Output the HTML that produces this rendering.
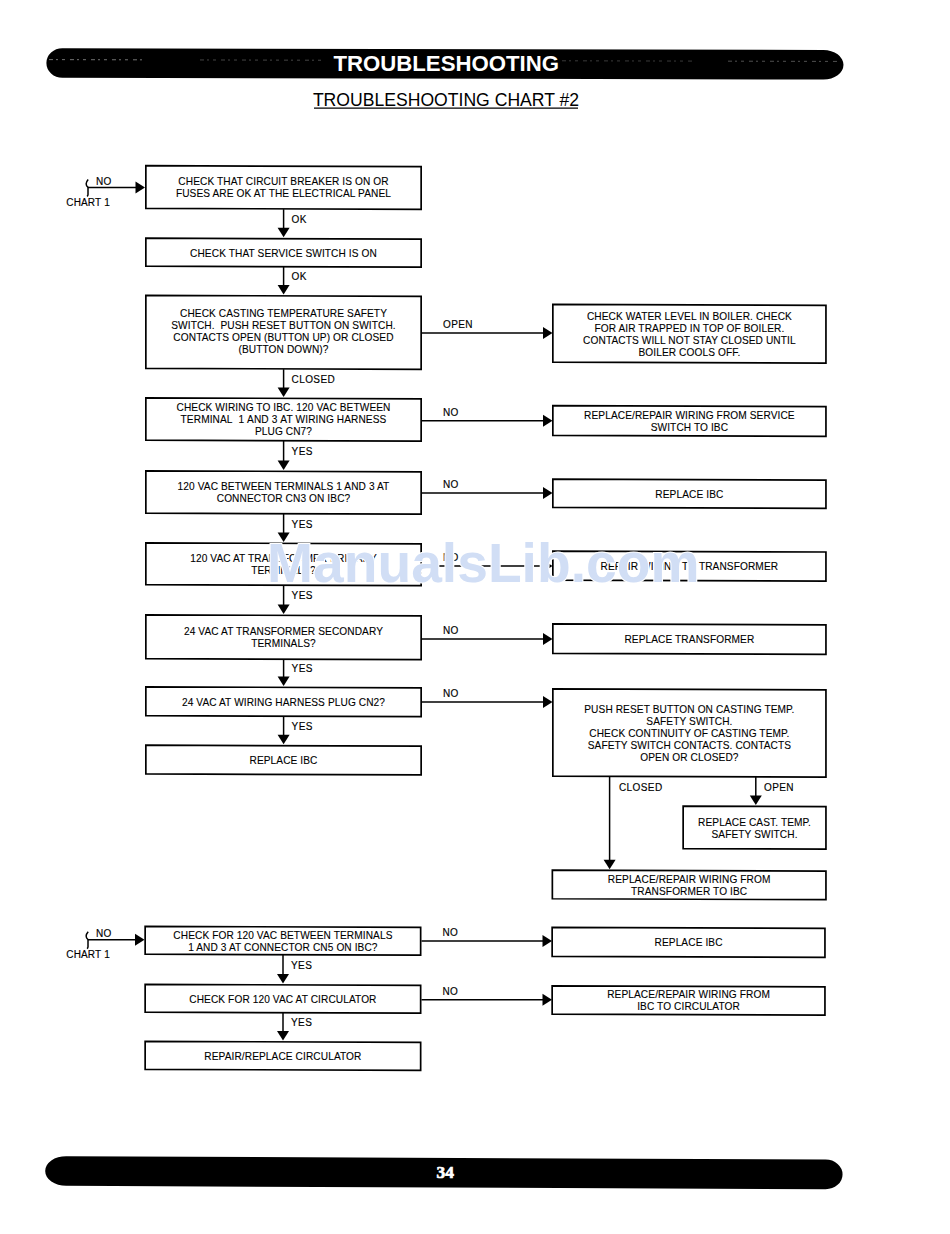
<!DOCTYPE html>
<html><head><meta charset="utf-8"><style>
html,body{margin:0;padding:0;background:#fff;width:950px;height:1234px;overflow:hidden}
svg{display:block}
text{font-family:"Liberation Sans",sans-serif;fill:#000}
.t{stroke:#000;stroke-width:0.1}
.l{stroke:#000;stroke-width:0.15}
.t{font-size:10.15px;text-anchor:middle;white-space:pre;letter-spacing:0.1px}
.l{font-size:10px;letter-spacing:0.4px}
.h{font-size:22.2px;font-weight:bold;fill:#fff;text-anchor:middle}
.sub{font-size:17.6px;text-anchor:middle}
.pg{font-family:"Liberation Serif",serif;font-size:17.4px;font-weight:bold;fill:#fff;stroke:#fff;stroke-width:0.7;text-anchor:middle}
.bx{fill:none;stroke:#000}
.ln{stroke:#000;stroke-width:1.5}
.ah{fill:#000}
.br{fill:none;stroke:#000;stroke-width:1.5}
.wm{font-size:55.2px;font-weight:bold;fill:#d1def5;stroke:#fff;stroke-width:2.2;paint-order:stroke}
</style></head><body>
<svg width="950" height="1234" viewBox="0 0 950 1234">
<path d="M62.4,48.2 L823.5,50 A20,14.8 0 0 1 823.5,79.6 L62.4,77.80000000000001 A16,14.8 0 0 1 62.4,48.2 Z" fill="#000"/>
<line x1="49" y1="59.61" x2="143" y2="59.82" stroke="#fff" stroke-width="0.9" stroke-dasharray="4 3 2 4 3 5" opacity="0.5"/>
<line x1="200" y1="59.95" x2="322" y2="60.23" stroke="#fff" stroke-width="0.9" stroke-dasharray="4 3 2 4 3 5" opacity="0.3"/>
<line x1="562" y1="60.79" x2="695" y2="61.09" stroke="#fff" stroke-width="0.9" stroke-dasharray="4 3 2 4 3 5" opacity="0.25"/>
<line x1="728" y1="61.17" x2="838" y2="61.42" stroke="#fff" stroke-width="0.9" stroke-dasharray="4 3 2 4 3 5" opacity="0.35"/>
<text x="446.2" y="70.5" class="h">TROUBLESHOOTING</text>
<text x="446" y="106" class="sub">TROUBLESHOOTING CHART #2</text>
<line x1="314" y1="108.2" x2="578" y2="108.2" stroke="#000" stroke-width="1.3"/>
<path d="M66.2,1156.2 L825.6,1159.6 A17,14.8 0 0 1 825.6,1189.1999999999998 L66.2,1185.8 A21,14.8 0 0 1 66.2,1156.2 Z" fill="#000"/>
<text x="445.3" y="1178.2" class="pg">34</text>
<path d="M145.85,165.65 L421.15,166.61 L421.15,209.31 L145.85,208.35 Z" class="bx" stroke-width="1.7"/>
<text x="283.5" y="185.43" class="t">CHECK THAT CIRCUIT BREAKER IS ON OR</text>
<text x="283.5" y="197.43" class="t">FUSES ARE OK AT THE ELECTRICAL PANEL</text>
<path d="M145.85,238.15 L421.15,239.11 L421.15,267.11 L145.85,266.15 Z" class="bx" stroke-width="1.7"/>
<text x="283.5" y="256.58" class="t">CHECK THAT SERVICE SWITCH IS ON</text>
<path d="M145.85,295.35 L421.15,296.31 L421.15,369.31 L145.85,368.34999999999997 Z" class="bx" stroke-width="1.7"/>
<text x="283.5" y="317.08" class="t">CHECK CASTING TEMPERATURE SAFETY</text>
<text x="283.5" y="329.08" class="t">SWITCH.&#160;&#160;PUSH&#160;RESET&#160;BUTTON&#160;ON&#160;SWITCH.</text>
<text x="283.5" y="341.08" class="t">CONTACTS OPEN (BUTTON UP) OR CLOSED</text>
<text x="283.5" y="353.08" class="t">(BUTTON DOWN)?</text>
<path d="M145.85,397.85 L421.15,398.81 L421.15,441.11 L145.85,440.15 Z" class="bx" stroke-width="1.7"/>
<text x="283.5" y="411.43" class="t">CHECK WIRING TO IBC. 120 VAC BETWEEN</text>
<text x="283.5" y="423.43" class="t">TERMINAL&#160;&#160;1&#160;AND&#160;3&#160;AT&#160;WIRING&#160;HARNESS</text>
<text x="283.5" y="435.43" class="t">PLUG CN7?</text>
<path d="M145.85,470.85 L421.15,471.81 L421.15,514.11 L145.85,513.15 Z" class="bx" stroke-width="1.7"/>
<text x="283.5" y="490.43" class="t">120 VAC BETWEEN TERMINALS 1 AND 3 AT</text>
<text x="283.5" y="502.43" class="t">CONNECTOR CN3 ON IBC?</text>
<path d="M145.85,542.85 L421.15,543.81 L421.15,585.61 L145.85,584.65 Z" class="bx" stroke-width="1.7"/>
<text x="283.5" y="562.18" class="t">120 VAC AT TRANSFORMER PRIMARY</text>
<text x="283.5" y="574.18" class="t">TERMINALS?</text>
<path d="M145.85,614.85 L421.15,615.81 L421.15,659.61 L145.85,658.65 Z" class="bx" stroke-width="1.7"/>
<text x="283.5" y="635.18" class="t">24 VAC AT TRANSFORMER SECONDARY</text>
<text x="283.5" y="647.18" class="t">TERMINALS?</text>
<path d="M145.85,686.85 L421.15,687.81 L421.15,716.61 L145.85,715.65 Z" class="bx" stroke-width="1.7"/>
<text x="283.5" y="705.68" class="t">24 VAC AT WIRING HARNESS PLUG CN2?</text>
<path d="M145.85,745.15 L421.15,746.11 L421.15,774.91 L145.85,773.9499999999999 Z" class="bx" stroke-width="1.7"/>
<text x="283.5" y="763.98" class="t">REPLACE IBC</text>
<line x1="283.6" y1="209.2" x2="283.6" y2="228.8" class="ln" stroke-width="1.35"/>
<path d="M277.6,227.8 L289.6,227.8 L283.6,237.3 Z" class="ah"/>
<text x="291.6" y="222.95" class="l">OK</text>
<line x1="283.6" y1="267" x2="283.6" y2="286.0" class="ln" stroke-width="1.35"/>
<path d="M277.6,285.0 L289.6,285.0 L283.6,294.5 Z" class="ah"/>
<text x="291.6" y="280.45" class="l">OK</text>
<line x1="283.6" y1="369.2" x2="283.6" y2="388.5" class="ln" stroke-width="1.35"/>
<path d="M277.6,387.5 L289.6,387.5 L283.6,397 Z" class="ah"/>
<text x="291.6" y="382.8" class="l">CLOSED</text>
<line x1="283.6" y1="441" x2="283.6" y2="461.5" class="ln" stroke-width="1.35"/>
<path d="M277.6,460.5 L289.6,460.5 L283.6,470 Z" class="ah"/>
<text x="291.6" y="455.2" class="l">YES</text>
<line x1="283.6" y1="514" x2="283.6" y2="533.5" class="ln" stroke-width="1.35"/>
<path d="M277.6,532.5 L289.6,532.5 L283.6,542 Z" class="ah"/>
<text x="291.6" y="527.7" class="l">YES</text>
<line x1="283.6" y1="585.5" x2="283.6" y2="605.5" class="ln" stroke-width="1.35"/>
<path d="M277.6,604.5 L289.6,604.5 L283.6,614 Z" class="ah"/>
<text x="291.6" y="599.45" class="l">YES</text>
<line x1="283.6" y1="659.5" x2="283.6" y2="677.5" class="ln" stroke-width="1.35"/>
<path d="M277.6,676.5 L289.6,676.5 L283.6,686 Z" class="ah"/>
<text x="291.6" y="672.45" class="l">YES</text>
<line x1="283.6" y1="716.5" x2="283.6" y2="735.8" class="ln" stroke-width="1.35"/>
<path d="M277.6,734.8 L289.6,734.8 L283.6,744.3 Z" class="ah"/>
<text x="291.6" y="730.1" class="l">YES</text>
<path d="M552.85,304.35 L825.9499999999999,305.31 L825.9499999999999,363.11 L552.85,362.15 Z" class="bx" stroke-width="1.7"/>
<text x="689.4" y="319.68" class="t">CHECK WATER LEVEL IN BOILER. CHECK</text>
<text x="689.4" y="331.68" class="t">FOR AIR TRAPPED IN TOP OF BOILER.</text>
<text x="689.4" y="343.68" class="t">CONTACTS WILL NOT STAY CLOSED UNTIL</text>
<text x="689.4" y="355.68" class="t">BOILER COOLS OFF.</text>
<path d="M552.85,405.65000000000003 L825.9499999999999,406.61 L825.9499999999999,436.31 L552.85,435.34999999999997 Z" class="bx" stroke-width="1.7"/>
<text x="689.4" y="418.93" class="t">REPLACE/REPAIR WIRING FROM SERVICE</text>
<text x="689.4" y="430.93" class="t">SWITCH TO IBC</text>
<path d="M552.85,479.15000000000003 L825.9499999999999,480.11 L825.9499999999999,508.41 L552.85,507.45 Z" class="bx" stroke-width="1.7"/>
<text x="689.4" y="497.73" class="t">REPLACE IBC</text>
<path d="M552.85,551.0500000000001 L825.9499999999999,552.01 L825.9499999999999,581.11 L552.85,580.15 Z" class="bx" stroke-width="1.7"/>
<text x="689.4" y="570.03" class="t">REPAIR WIRING TO TRANSFORMER</text>
<path d="M552.85,623.85 L825.9499999999999,624.81 L825.9499999999999,654.31 L552.85,653.35 Z" class="bx" stroke-width="1.7"/>
<text x="689.4" y="643.03" class="t">REPLACE TRANSFORMER</text>
<path d="M552.85,688.85 L825.9499999999999,689.81 L825.9499999999999,777.11 L552.85,776.15 Z" class="bx" stroke-width="1.7"/>
<text x="689.4" y="712.93" class="t">PUSH RESET BUTTON ON CASTING TEMP.</text>
<text x="689.4" y="724.93" class="t">SAFETY SWITCH.</text>
<text x="689.4" y="736.93" class="t">CHECK CONTINUITY OF CASTING TEMP.</text>
<text x="689.4" y="748.93" class="t">SAFETY SWITCH CONTACTS. CONTACTS</text>
<text x="689.4" y="760.93" class="t">OPEN OR CLOSED?</text>
<path d="M683.15,806.0500000000001 L825.9499999999999,806.55 L825.9499999999999,849.05 L683.15,848.55 Z" class="bx" stroke-width="1.7"/>
<text x="754.55" y="825.73" class="t">REPLACE CAST. TEMP.</text>
<text x="754.55" y="837.73" class="t">SAFETY SWITCH.</text>
<path d="M552.35,870.15 L825.9499999999999,871.11 L825.9499999999999,899.71 L552.35,898.75 Z" class="bx" stroke-width="1.7"/>
<text x="689.15" y="882.88" class="t">REPLACE/REPAIR WIRING FROM</text>
<text x="689.15" y="894.88" class="t">TRANSFORMER TO IBC</text>
<line x1="422" y1="333" x2="544.0" y2="333" class="ln" stroke-width="1.75"/>
<path d="M543.0,327 L543.0,339 L552.5,333 Z" class="ah"/>
<text x="443" y="328" class="l">OPEN</text>
<line x1="422" y1="420.7" x2="544.0" y2="420.7" class="ln" stroke-width="1.75"/>
<path d="M543.0,414.7 L543.0,426.7 L552.5,420.7 Z" class="ah"/>
<text x="443" y="415.7" class="l">NO</text>
<line x1="422" y1="492.9" x2="544.0" y2="492.9" class="ln" stroke-width="1.75"/>
<path d="M543.0,486.9 L543.0,498.9 L552.5,492.9 Z" class="ah"/>
<text x="443" y="487.9" class="l">NO</text>
<line x1="422" y1="566" x2="544.0" y2="566" class="ln" stroke-width="1.75"/>
<path d="M543.0,560 L543.0,572 L552.5,566 Z" class="ah"/>
<text x="443" y="561" class="l">NO</text>
<line x1="422" y1="639" x2="544.0" y2="639" class="ln" stroke-width="1.75"/>
<path d="M543.0,633 L543.0,645 L552.5,639 Z" class="ah"/>
<text x="443" y="634" class="l">NO</text>
<line x1="422" y1="702" x2="544.0" y2="702" class="ln" stroke-width="1.75"/>
<path d="M543.0,696 L543.0,708 L552.5,702 Z" class="ah"/>
<text x="443" y="697" class="l">NO</text>
<line x1="609.6" y1="777" x2="609.6" y2="860.8" class="ln" stroke-width="1.35"/>
<path d="M603.6,859.8 L615.6,859.8 L609.6,869.3 Z" class="ah"/>
<text x="619" y="791" class="l">CLOSED</text>
<line x1="755.8" y1="777" x2="755.8" y2="796.5" class="ln" stroke-width="1.35"/>
<path d="M749.8,795.5 L761.8,795.5 L755.8,805 Z" class="ah"/>
<text x="764" y="791" class="l">OPEN</text>
<path d="M88.2,179.4 C85.4,182.4 85.6,185.4 88,187.4 L88,194.4 C88,195.4 87.6,196.0 87,196.4" class="br"/>
<line x1="88" y1="187.4" x2="136.5" y2="187.4" class="ln" stroke-width="1.75"/>
<path d="M135.5,181.4 L135.5,193.4 L145,187.4 Z" class="ah"/>
<text x="96" y="184.9" class="l">NO</text>
<text x="66.3" y="205.8" class="l" style="letter-spacing:0.15px">CHART&#160;1</text>
<path d="M145.15,926.35 L420.65,927.31 L420.65,955.11 L145.15,954.15 Z" class="bx" stroke-width="1.7"/>
<text x="282.9" y="938.68" class="t">CHECK FOR 120 VAC BETWEEN TERMINALS</text>
<text x="282.9" y="950.68" class="t">1 AND 3 AT CONNECTOR CN5 ON IBC?</text>
<path d="M145.15,984.35 L420.65,985.31 L420.65,1013.11 L145.15,1012.15 Z" class="bx" stroke-width="1.7"/>
<text x="282.9" y="1002.68" class="t">CHECK FOR 120 VAC AT CIRCULATOR</text>
<path d="M145.15,1041.35 L420.65,1042.31 L420.65,1070.31 L145.15,1069.3500000000001 Z" class="bx" stroke-width="1.7"/>
<text x="282.9" y="1059.78" class="t">REPAIR/REPLACE CIRCULATOR</text>
<line x1="283" y1="955" x2="283" y2="975.0" class="ln" stroke-width="1.35"/>
<path d="M277,974.0 L289,974.0 L283,983.5 Z" class="ah"/>
<text x="291" y="968.95" class="l">YES</text>
<line x1="283" y1="1013" x2="283" y2="1032.0" class="ln" stroke-width="1.35"/>
<path d="M277,1031.0 L289,1031.0 L283,1040.5 Z" class="ah"/>
<text x="291" y="1026.45" class="l">YES</text>
<path d="M552.15,927.45 L824.9499999999999,928.40 L824.9499999999999,957.30 L552.15,956.35 Z" class="bx" stroke-width="1.7"/>
<text x="688.55" y="946.33" class="t">REPLACE IBC</text>
<path d="M552.15,985.85 L824.9499999999999,986.80 L824.9499999999999,1015.10 L552.15,1014.15 Z" class="bx" stroke-width="1.7"/>
<text x="688.55" y="998.43" class="t">REPLACE/REPAIR WIRING FROM</text>
<text x="688.55" y="1010.43" class="t">IBC TO CIRCULATOR</text>
<line x1="421.5" y1="940.9" x2="543.5" y2="940.9" class="ln" stroke-width="1.75"/>
<path d="M542.5,934.9 L542.5,946.9 L552,940.9 Z" class="ah"/>
<text x="442.5" y="935.9" class="l">NO</text>
<line x1="421.5" y1="999.7" x2="543.5" y2="999.7" class="ln" stroke-width="1.75"/>
<path d="M542.5,993.7 L542.5,1005.7 L552,999.7 Z" class="ah"/>
<text x="442.5" y="994.7" class="l">NO</text>
<path d="M88.2,931.7 C85.4,934.7 85.6,937.7 88,939.7 L88,946.7 C88,947.7 87.6,948.3000000000001 87,948.7" class="br"/>
<line x1="88" y1="939.7" x2="136.0" y2="939.7" class="ln" stroke-width="1.75"/>
<path d="M135.0,933.7 L135.0,945.7 L144.5,939.7 Z" class="ah"/>
<text x="96" y="937.2" class="l">NO</text>
<text x="66.3" y="958.1" class="l" style="letter-spacing:0.15px">CHART&#160;1</text>
<text x="267.1" y="581.7" class="wm">ManualsLib.com</text>
</svg>
</body></html>
